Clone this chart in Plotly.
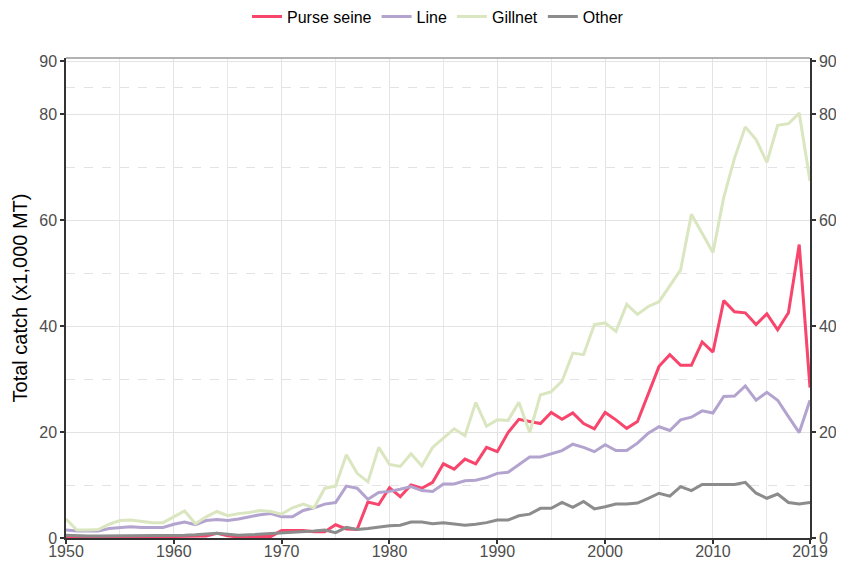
import plotly.graph_objects as go

years = list(range(1950, 2020))

purse_seine = [0.1, 0.1, 0.1, 0.1, 0.1, 0.1, 0.1, 0.1, 0.1, 0.1,
               0.3, 0.3, 0.3, 0.4, 0.9, 0.4, 0.2, 0.3, 0.3, 0.3,
               1.4, 1.4, 1.4, 1.2, 1.2, 2.5, 1.7, 1.6, 6.8, 6.3,
               9.5, 7.8, 10.0, 9.4, 10.5, 14.0, 13.0, 14.9, 14.0, 17.1,
               16.3, 19.9, 22.4, 22.0, 21.6, 23.7, 22.4, 23.6, 21.6, 20.6,
               23.7, 22.3, 20.7, 22.0, 27.4, 32.4, 34.6, 32.6, 32.6, 37.0,
               35.1, 44.8, 42.7, 42.5, 40.3, 42.3, 39.3, 42.5, 55.4, 28.4]

line = [1.5, 1.3, 1.3, 1.3, 1.8, 2.0, 2.1, 2.0, 2.0, 2.0,
        2.6, 3.0, 2.5, 3.3, 3.5, 3.3, 3.6, 4.0, 4.4, 4.6,
        4.0, 4.0, 5.2, 5.7, 6.4, 6.7, 9.8, 9.4, 7.3, 8.6,
        8.8, 9.2, 9.7, 8.95, 8.8, 10.2, 10.2, 10.8, 10.9, 11.4,
        12.2, 12.4, 13.8, 15.3, 15.3, 15.9, 16.5, 17.7, 17.1, 16.3,
        17.6, 16.5, 16.5, 17.9, 19.8, 21.0, 20.3, 22.3, 22.8, 24.0,
        23.6, 26.7, 26.8, 28.7, 26.0, 27.5, 26.0, 22.9, 19.9, 26.0]

gillnet = [3.6, 1.5, 1.5, 1.6, 2.6, 3.3, 3.4, 3.2, 2.9, 2.9,
           4.0, 5.1, 2.7, 4.0, 5.0, 4.2, 4.6, 4.8, 5.2, 5.0,
           4.5, 5.7, 6.4, 5.7, 9.4, 9.8, 15.7, 12.2, 10.6, 17.1,
           13.9, 13.5, 15.9, 13.6, 17.1, 18.9, 20.6, 19.3, 25.6, 21.1,
           22.3, 22.2, 25.6, 19.9, 27.0, 27.6, 29.6, 34.9, 34.6, 40.3,
           40.6, 39.0, 44.1, 42.2, 43.7, 44.6, 47.7, 50.6, 61.1, 57.5,
           53.9, 64.3, 71.7, 77.6, 75.2, 70.9, 77.9, 78.2, 80.2, 67.4]

other = [0.5, 0.4, 0.4, 0.4, 0.4, 0.4, 0.4, 0.4, 0.4, 0.4,
         0.5, 0.5, 0.6, 0.8, 0.9, 0.7, 0.5, 0.6, 0.7, 0.8,
         0.9, 1.0, 1.1, 1.3, 1.5, 1.0, 2.0, 1.6, 1.8, 2.1,
         2.3, 2.4, 3.0, 3.0, 2.7, 2.9, 2.6, 2.4, 2.6, 2.9,
         3.4, 3.4, 4.2, 4.5, 5.6, 5.6, 6.7, 5.8, 6.9, 5.5,
         5.9, 6.4, 6.4, 6.6, 7.5, 8.45, 7.9, 9.7, 8.95, 10.1,
         10.1, 10.1, 10.1, 10.5, 8.45, 7.5, 8.3, 6.7, 6.4, 6.7]

series_names = ["Purse seine", "Line", "Gillnet", "Other"]
series_values = [purse_seine, line, gillnet, other]
series_colors = ["#F7456C", "#B3A3CF", "#DAE6C0", "#8C8C8C"]

x_tick_vals = [1950, 1960, 1970, 1980, 1990, 2000, 2010, 2019]
x_minor_vals = [1955, 1965, 1975, 1985, 1995, 2005, 2015]
y_tick_vals = [0, 20, 40, 60, 80, 90]
y_minor_vals = [10, 30, 50, 70, 85]

fig = go.Figure()
for name, vals, col in zip(series_names, series_values, series_colors):
    fig.add_trace(go.Scatter(x=years, y=vals, mode="lines", name=name,
                             line=dict(color=col, width=3)))

# invisible trace to anchor the right-hand axis
fig.add_trace(go.Scatter(x=years, y=gillnet, mode="lines", yaxis="y2",
                         line=dict(color="rgba(0,0,0,0)", width=0),
                         showlegend=False, hoverinfo="skip"))

FONT = "Liberation Sans, Arial, sans-serif"
tick_font = dict(family=FONT, size=16, color="#4D4D4D")
axis_col = "#333333"
yrange = [0, 90.6]

fig.update_layout(
    width=836, height=554,
    margin=dict(l=58, r=34, t=50, b=24, autoexpand=False),
    paper_bgcolor="white", plot_bgcolor="white",
    font=dict(family=FONT, color="black"),
    legend=dict(orientation="h", x=0.5, xanchor="center", xref="paper",
                y=1.086, yanchor="middle", yref="paper",
                font=dict(size=16, color="black"), itemwidth=30,
                bgcolor="rgba(0,0,0,0)"),
    xaxis=dict(range=[1950, 2019], tickvals=x_tick_vals,
               ticktext=[str(v) for v in x_tick_vals],
               showgrid=True, gridcolor="#E3E3E3", gridwidth=1,
               minor=dict(tickvals=x_minor_vals, showgrid=True,
                          gridcolor="#E8E8E8", gridwidth=1, ticklen=0),
               showline=True, linecolor=axis_col, linewidth=1.5,
               ticks="outside", ticklen=4, tickcolor=axis_col, tickwidth=1.5,
               ticklabelstandoff=-6,
               tickfont=tick_font, zeroline=False, automargin=False),
    yaxis=dict(range=yrange, tickvals=y_tick_vals,
               showgrid=True, gridcolor="#E3E3E3", gridwidth=1,
               minor=dict(tickvals=y_minor_vals, showgrid=True,
                          gridcolor="#E3E3E3", gridwidth=1, griddash="dash",
                          ticklen=0),
               showline=True, linecolor=axis_col, linewidth=1.5,
               ticks="outside", ticklen=4, tickcolor=axis_col, tickwidth=1.5,
               tickfont=tick_font, zeroline=False, automargin=False,
               title=dict(text="Total catch (x1,000 MT)",
                          font=dict(size=20, color="black"), standoff=6)),
    yaxis2=dict(range=yrange, tickvals=y_tick_vals, overlaying="y", side="right",
                showgrid=False, showline=True, linecolor=axis_col, linewidth=1.5,
                ticks="outside", ticklen=4, tickcolor=axis_col, tickwidth=1.5,
                tickfont=tick_font, zeroline=False, automargin=False),
    shapes=[dict(type="line", xref="paper", yref="paper", x0=0, x1=1, y0=1, y1=1,
                 line=dict(color="#9A9A9A", width=1.5))],
    showlegend=True,
)

fig.write_html("out.html")
